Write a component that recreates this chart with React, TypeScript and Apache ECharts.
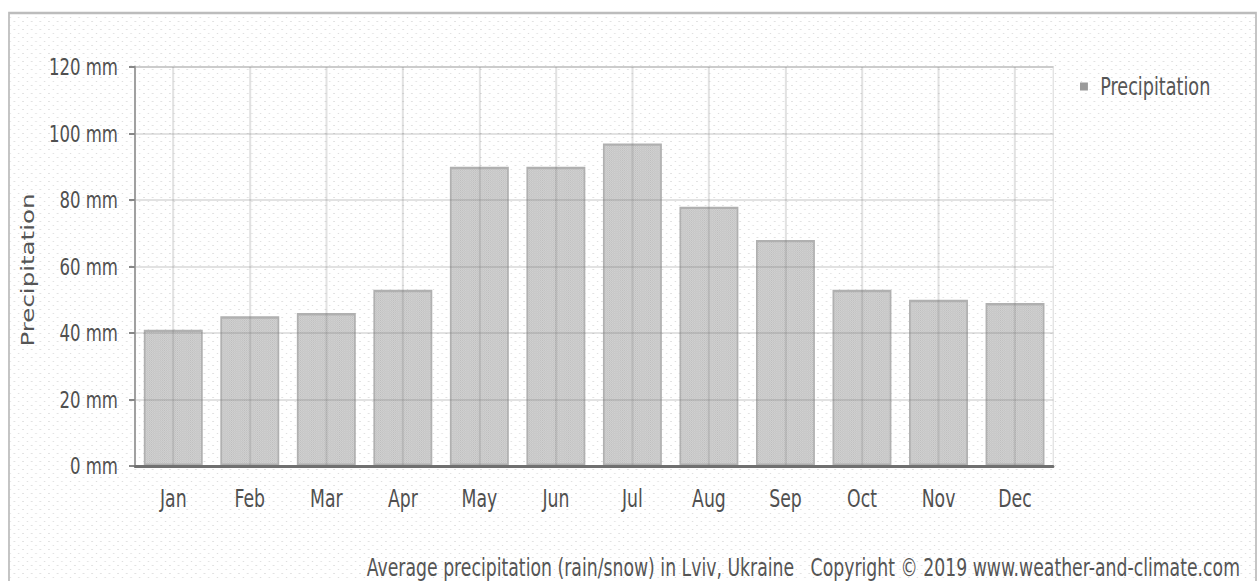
import React, { useEffect, useRef } from "react";
import * as echarts from "echarts";

const months = ["Jan", "Feb", "Mar", "Apr", "May", "Jun", "Jul", "Aug", "Sep", "Oct", "Nov", "Dec"];
const precipitation = [41, 45, 46, 53, 90, 90, 97, 78, 68, 53, 50, 49];
const yTicks = [0, 20, 40, 60, 80, 100, 120];
const seriesName = "Precipitation";
const axisTitle = "Precipitation";
const footer = "Average precipitation (rain/snow) in Lviv, Ukraine   Copyright © 2019 www.weather-and-climate.com";

// The reference is horizontally condensed: draw at a wider internal width and squeeze.
const VIEW_W = 1259;
const VIEW_H = 581;
const SQUEEZE = 0.72;
const INNER_W = VIEW_W / SQUEEZE;
const X = (px: number) => px / SQUEEZE;

function makeTile(w: number, h: number, draw: (ctx: CanvasRenderingContext2D) => void): string {
  const c = document.createElement("canvas");
  c.width = w;
  c.height = h;
  const ctx = c.getContext("2d");
  if (ctx) draw(ctx);
  return c.toDataURL();
}

const FONT = "'DejaVu Sans', Verdana, sans-serif";

export default function App() {
  const ref = useRef<HTMLDivElement>(null);
  useEffect(() => {
    if (!ref.current) return;
    document.body.style.overflow = "hidden";
    const bgTile = makeTile(12, 8, (ctx) => {
      ctx.fillStyle = "#ffffff";
      ctx.fillRect(0, 0, 12, 8);
      ctx.fillStyle = "#dcdcdc";
      ctx.fillRect(1, 1, 2, 1);
      ctx.fillRect(7, 5, 2, 1);
    });
    const barTile = makeTile(3, 2, (ctx) => {
      ctx.fillStyle = "#d0d0d0";
      ctx.fillRect(0, 0, 3, 2);
      ctx.fillStyle = "#bebebe";
      ctx.fillRect(0, 0, 1, 1);
      ctx.fillRect(1.5, 1, 1, 1);
    });
    const chart = echarts.init(ref.current, undefined, { renderer: "svg" });
    chart.setOption({
      animation: false,
      backgroundColor: "#ffffff",
      graphic: [
        {
          type: "rect",
          z: -10,
          silent: true,
          shape: { x: X(9), y: 13, width: X(1247), height: 600 },
          style: { fill: { image: bgTile, repeat: "repeat" } as any, stroke: "#bcbcbc", lineWidth: 2.4 },
        },
        {
          type: "text",
          x: X(28),
          y: 270,
          rotation: Math.PI / 2,
          silent: true,
          style: {
            text: axisTitle,
            fontFamily: FONT,
            fontSize: 24.5,
            fill: "#555555",
            align: "center",
            verticalAlign: "middle",
          },
        },
        {
          type: "text",
          x: X(1240),
          y: 568,
          silent: true,
          style: {
            text: footer,
            fontFamily: FONT,
            fontSize: 24,
            fill: "#555555",
            align: "right",
            verticalAlign: "middle",
          },
        },
      ],
      legend: {
        left: X(1080),
        top: 74,
        padding: 0,
        itemWidth: 11,
        itemHeight: 8,
        icon: "rect",
        data: [{ name: seriesName, itemStyle: { color: "#9a9a9a", borderWidth: 0 } }],
        textStyle: { fontFamily: FONT, fontSize: 24.5, color: "#555555", padding: [0, 0, 0, 12] },
      },
      grid: {
        left: X(135),
        right: INNER_W - X(1053),
        top: 67,
        bottom: 115,
        show: true,
        borderColor: "#e4e4e4",
        borderWidth: 2,
        backgroundColor: "transparent",
      },
      xAxis: {
        type: "category",
        data: months,
        z: 6,
        axisLine: { lineStyle: { color: "#707070", width: 3 } },
        axisTick: { alignWithLabel: true, length: 13, lineStyle: { color: "#666666", width: 2.8 } },
        axisLabel: { margin: 21, fontFamily: FONT, fontSize: 24, color: "#505050" },
        splitLine: { show: false },
      },
      yAxis: {
        type: "value",
        min: 0,
        max: 120,
        interval: 20,
        z: 5,
        axisLine: { show: true, lineStyle: { color: "#a0a0a0", width: 2.8 } },
        axisTick: { show: true, length: X(6), lineStyle: { color: "#888888", width: 2 } },
        axisLabel: {
          margin: X(17),
          fontFamily: FONT,
          fontSize: 23,
          color: "#505050",
          formatter: (v: number) => (yTicks.indexOf(v) >= 0 ? v + " mm" : ""),
        },
        splitLine: { show: true, lineStyle: { color: "rgba(110,110,110,0.2)", width: 2 } },
      },
      series: [
        {
          name: seriesName,
          type: "bar",
          data: precipitation,
          barWidth: "77%",
          itemStyle: {
            color: { image: barTile, repeat: "repeat" } as any,
            borderColor: "#b0b0b0",
            borderWidth: 2.4,
          },
          emphasis: { disabled: true },
          markLine: {
            silent: true,
            symbol: ["none", "none"],
            label: { show: false },
            lineStyle: { color: "rgba(110,110,110,0.2)", width: 2.8, type: "solid" },
            emphasis: { disabled: true },
            data: months.map((m) => ({ xAxis: m })),
          },
        },
      ],
    });
    return () => chart.dispose();
  }, []);
  return (
    <div
      ref={ref}
      style={{
        position: "fixed",
        left: 0,
        top: 0,
        width: INNER_W,
        height: VIEW_H,
        transform: `scaleX(${SQUEEZE})`,
        transformOrigin: "0 0",
      }}
    />
  );
}
